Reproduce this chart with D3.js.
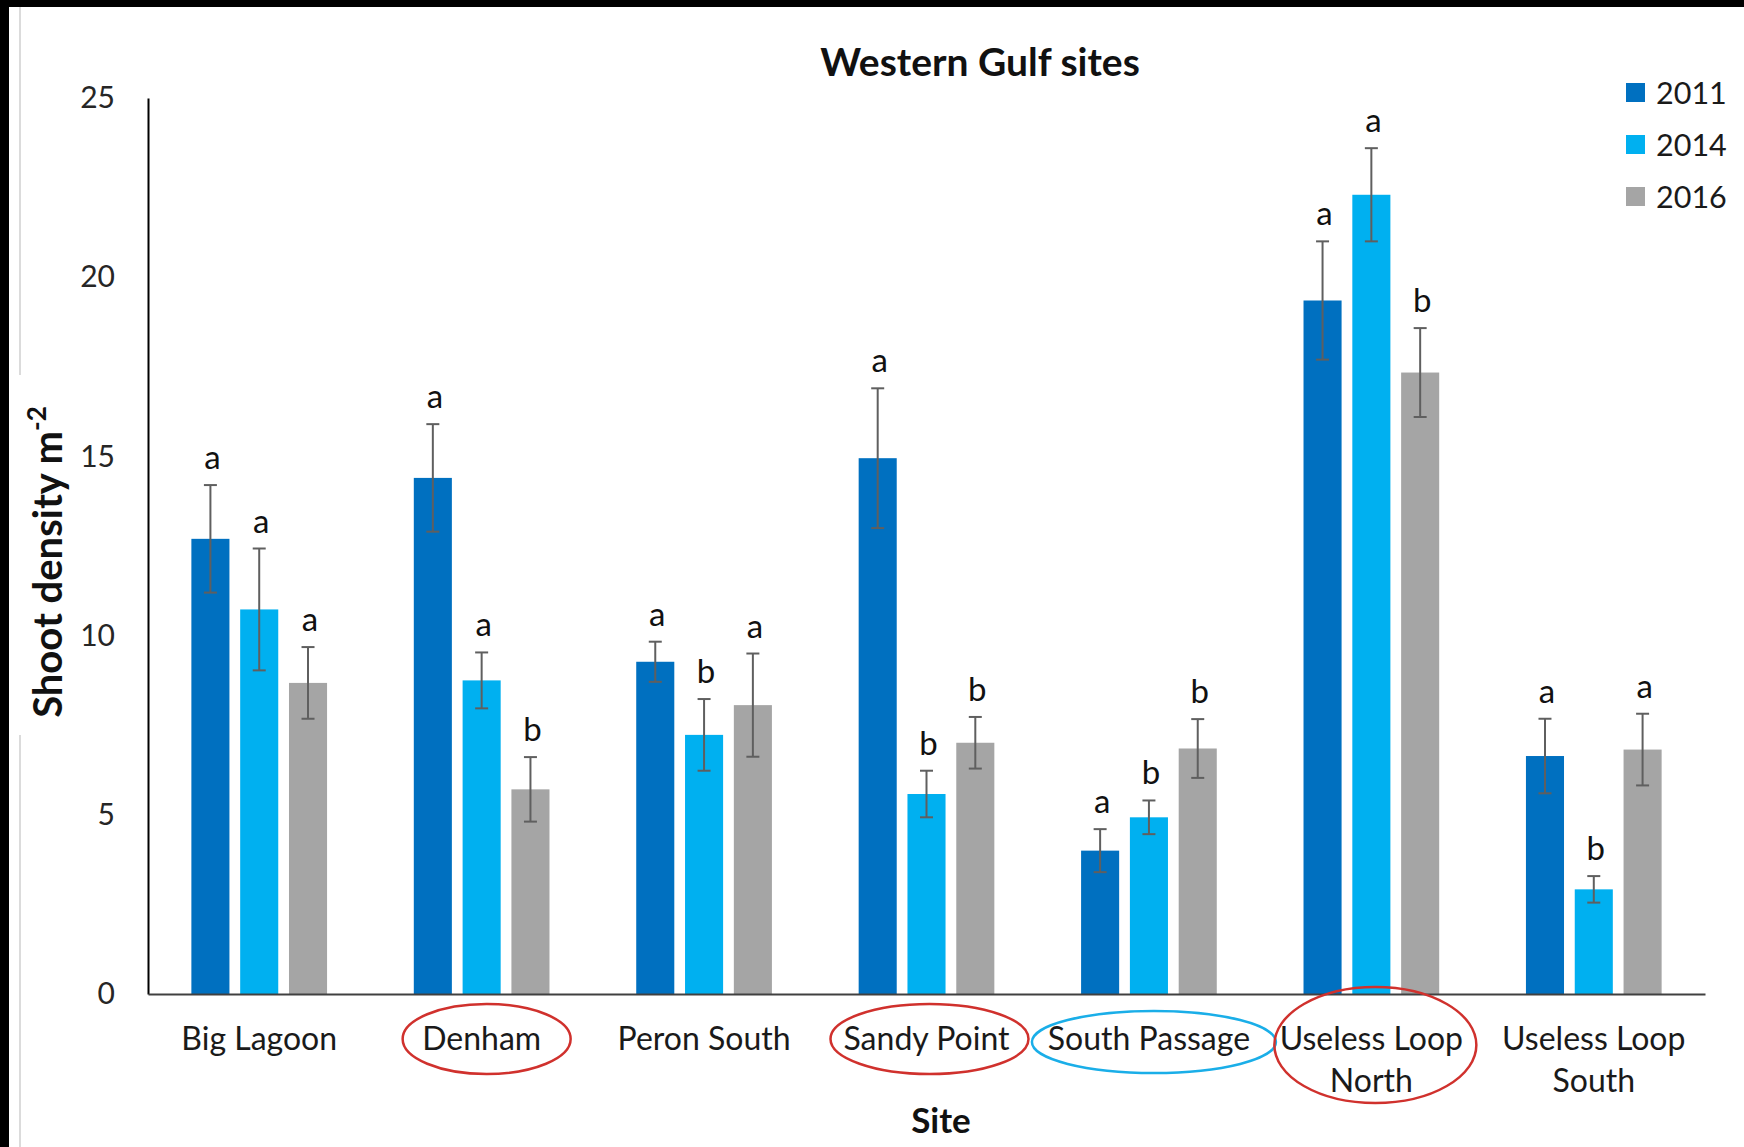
<!DOCTYPE html>
<html><head><meta charset="utf-8">
<script src="https://cdn.jsdelivr.net/npm/d3@7"></script>
<style>
html,body{margin:0;padding:0;background:#fff;}
svg{display:block;}
text{font-family:Lato,"Open Sans",sans-serif;}
</style></head>
<body>
<svg id="chart" width="1744" height="1147"></svg>
<script>
const sites = ["Big Lagoon","Denham","Peron South","Sandy Point","South Passage","Useless Loop North","Useless Loop South"];
const siteLines = [["Big Lagoon"],["Denham"],["Peron South"],["Sandy Point"],["South Passage"],["Useless Loop","North"],["Useless Loop","South"]];
const years = ["2011","2014","2016"];
const colors = ["#0070C0","#00B0F0","#A5A5A5"];
const values2011 = [12.7, 14.4, 9.27, 14.95, 4.0, 19.35, 6.64];
const values2014 = [10.73, 8.75, 7.23, 5.58, 4.93, 22.3, 2.92];
const values2016 = [8.68, 5.71, 8.06, 7.01, 6.85, 17.34, 6.82];
const err2011 = [1.5, 1.5, 0.56, 1.95, 0.6, 1.65, 1.04];
const err2014 = [1.7, 0.78, 1.0, 0.65, 0.47, 1.3, 0.37];
const err2016 = [1.0, 0.9, 1.44, 0.72, 0.82, 1.24, 1.0];
const letters2011 = ["a","a","a","a","a","a","a"];
const letters2014 = ["a","a","b","b","b","a","b"];
const letters2016 = ["a","b","a","b","b","b","a"];
const yTicks = [0,5,10,15,20,25];
const highlightSites = ["Denham","Sandy Point","South Passage","Useless Loop North"];
const highlightColors = ["#D0312D","#D0312D","#1AAEE8","#D0312D"];

const values = [values2011, values2014, values2016];
const errs = [err2011, err2014, err2016];
const letters = [letters2011, letters2014, letters2016];

const svg = d3.select("#chart");
const L = 148, R = 1705, T = 98, B = 994;

// outer frame
svg.append("rect").attr("x",0).attr("y",0).attr("width",1744).attr("height",7).attr("fill","#000");
svg.append("rect").attr("x",0).attr("y",0).attr("width",9).attr("height",1147).attr("fill","#000");
svg.append("line").attr("x1",20).attr("x2",20).attr("y1",7).attr("y2",375).attr("stroke","#cfcfcf").attr("stroke-width",1.5);
svg.append("line").attr("x1",20).attr("x2",20).attr("y1",735).attr("y2",1147).attr("stroke","#cfcfcf").attr("stroke-width",1.5);

const x0 = d3.scaleBand().domain(sites).range([L,R]).paddingInner(0.39).paddingOuter(0.195);
const x1 = d3.scaleBand().domain(years).range([0,x0.bandwidth()]).paddingInner(0.22);
const y = d3.scaleLinear().domain([0,25]).range([B,T]);

// y axis
const yAxis = d3.axisLeft(y).tickValues(yTicks).tickSize(0).tickPadding(33);
const ya = svg.append("g").attr("transform",`translate(${L},0)`).call(yAxis);
ya.select(".domain").attr("stroke","#000").attr("stroke-width",2);
ya.selectAll("text").attr("font-size",30).attr("fill","#262626").attr("font-family","Lato");

// bars
sites.forEach((s,i)=>{
  years.forEach((yr,j)=>{
    const v = values[j][i], e = errs[j][i];
    const bx = x0(s) + x1(yr), bw = x1.bandwidth(), cx = bx + bw/2;
    svg.append("rect").attr("x",bx).attr("y",y(v)).attr("width",bw).attr("height",y(0)-y(v)).attr("fill",colors[j]);
    const eg = svg.append("g").attr("stroke","#5f5f5f").attr("stroke-width",2);
    eg.append("line").attr("x1",cx).attr("x2",cx).attr("y1",y(v+e)).attr("y2",y(v-e));
    eg.append("line").attr("x1",cx-6.5).attr("x2",cx+6.5).attr("y1",y(v+e)).attr("y2",y(v+e));
    eg.append("line").attr("x1",cx-6.5).attr("x2",cx+6.5).attr("y1",y(v-e)).attr("y2",y(v-e));
    svg.append("text").attr("x",cx+2).attr("y",y(v+e)-16).attr("text-anchor","middle")
      .attr("font-size",33).attr("fill","#111").text(letters[j][i]);
  });
});

// x axis
const xAxis = d3.axisBottom(x0).tickSize(0).tickFormat("");
const xa = svg.append("g").attr("transform",`translate(0,${B})`).call(xAxis);
xa.select(".domain").attr("stroke","#404040").attr("stroke-width",2);

// x labels
sites.forEach((s,i)=>{
  const cx = x0(s) + x0.bandwidth()/2;
  const t = svg.append("text").attr("text-anchor","middle").attr("font-size",32).attr("fill","#1a1a1a");
  siteLines[i].forEach((ln,k)=>{
    t.append("tspan").attr("x",cx).attr("y",1050 + k*42).text(ln);
  });
});

// highlight ellipses
const ellSpec = {"Denham":[5,0,84,35],"Sandy Point":[3,0,99,35],"South Passage":[5,3,122,31],"Useless Loop North":[4,6,101,58]};
highlightSites.forEach((s,k)=>{
  const sp = ellSpec[s];
  const cx = x0(s) + x0.bandwidth()/2 + sp[0];
  svg.append("ellipse").attr("cx",cx).attr("cy",1039+sp[1]).attr("rx",sp[2]).attr("ry",sp[3])
    .attr("fill","none").attr("stroke",highlightColors[k]).attr("stroke-width",2.5);
});

// titles
svg.append("text").attr("x",980).attr("y",76).attr("text-anchor","middle").attr("font-size",39)
  .attr("font-weight","bold").attr("fill","#111").text("Western Gulf sites");
svg.append("text").attr("x",941).attr("y",1133).attr("text-anchor","middle").attr("font-size",35)
  .attr("font-weight","bold").attr("fill","#111").text("Site");
const yt = svg.append("text").attr("transform","translate(62,562) rotate(-90)").attr("text-anchor","middle")
  .attr("font-size",40).attr("font-weight","bold").attr("fill","#111");
yt.append("tspan").text("Shoot density m");
yt.append("tspan").attr("font-size",26).attr("dy",-16).text("-2");

// legend
years.forEach((yr,j)=>{
  const ly = 93 + j*52;
  svg.append("rect").attr("x",1626).attr("y",ly-10).attr("width",19).attr("height",19).attr("fill",colors[j]);
  svg.append("text").attr("x",1656).attr("y",ly).attr("dy","0.35em").attr("font-size",30.5).attr("fill","#1a1a1a").text(yr);
});
</script>
</body></html>
